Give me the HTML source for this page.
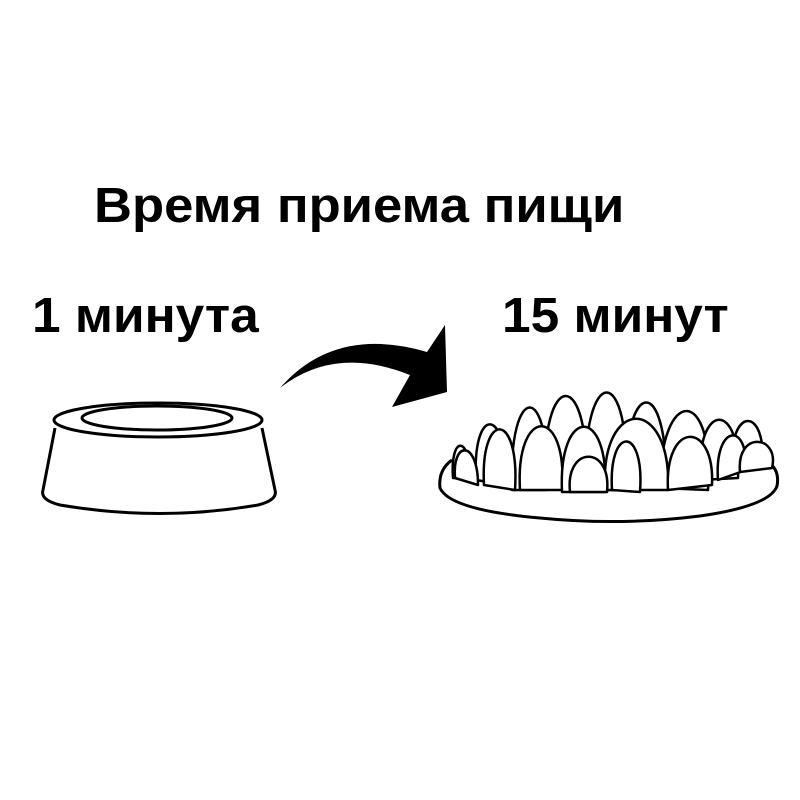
<!DOCTYPE html>
<html><head><meta charset="utf-8"><style>
html,body{margin:0;padding:0;background:#fff;}
body{width:800px;height:800px;position:relative;overflow:hidden;font-family:"Liberation Sans","DejaVu Sans",sans-serif;}
.t{position:absolute;font-weight:bold;color:#000;white-space:nowrap;line-height:1;transform-origin:0 0;transform:scaleX(1.05);}
</style></head><body>
<div class="t" style="left:94px;top:182px;font-size:49px;transform:scaleX(1.073);">Время приема пищи</div>
<div class="t" style="left:32px;top:292px;font-size:49px;">1 минута</div>
<div class="t" style="left:502px;top:292px;font-size:49px;">15 минут</div>
<svg width="800" height="800" style="position:absolute;left:0;top:0" fill="none" stroke="#000" stroke-width="3" stroke-linejoin="round">
<!-- bowl -->
<path d="M55,428 L43,490 Q40,500 60,505 Q160,522 258,505 Q278,500 275,490 L262,428" fill="#fff"/>
<ellipse cx="158" cy="420" rx="104" ry="17" fill="#fff"/>
<ellipse cx="157" cy="418" rx="75" ry="12"/>
<!-- arrow -->
<path d="M280,388 Q335,325 427,352 L445,325 L447,392 L392,407 L410,375 Q335,345 280,388 Z" fill="#000" stroke="none"/>
<!-- slow feeder -->
<path d="M452,460 Q438,470 440,488 Q450,510 540,518 Q620,526 700,516 Q770,506 777,486 Q780,470 768,462" fill="#fff"/>
<g fill="#fff" stroke-width="2.5">
<path d="M453,478 C450,435 470,435 470,478 Z"/>
<path d="M476,480 C472,405 508,405 506,485 Z"/>
<path d="M512,490 C508,380 552,380 546,490 Z"/>
<path d="M545,488 C540,365 592,365 586,490 Z"/>
<path d="M585,490 C582,360 632,360 626,490 Z"/>
<path d="M625,485 C625,375 668,375 666,485 Z"/>
<path d="M660,488 C660,385 715,385 708,490 Z"/>
<path d="M700,480 C696,400 742,400 738,478 Z"/>
<path d="M732,470 C728,405 768,405 762,468 Z"/>
<path d="M455,478 C452,440 478,440 478,485 Z"/>
<path d="M484,485 C480,410 520,410 515,490 Z"/>
<path d="M520,490 C515,405 568,405 562,490 Z"/>
<path d="M562,492 C558,405 610,405 605,492 Z"/>
<path d="M605,490 C600,395 672,395 668,490 Z"/>
<path d="M668,490 C664,420 715,420 712,485 Z"/>
<path d="M718,480 C714,425 748,420 746,470 Z"/>
<path d="M740,472 C736,430 780,435 772,468 Z"/>
<path d="M570,492 C565,445 612,445 607,492 Z"/>
<path d="M612,490 C608,425 645,425 640,492 Z"/>
</g>
</svg>
</body></html>
